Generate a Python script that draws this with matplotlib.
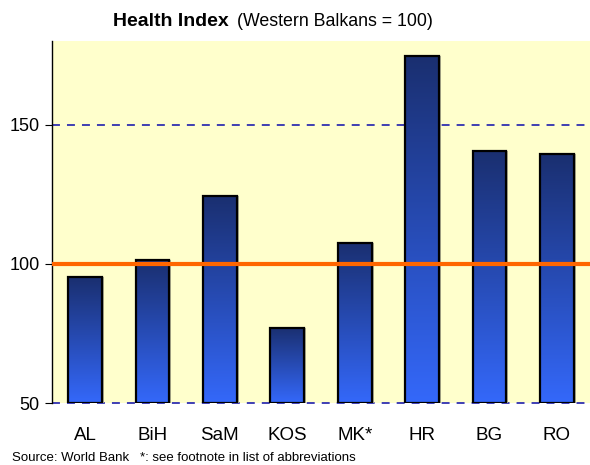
import numpy as np
import matplotlib
matplotlib.use("Agg")
import matplotlib.pyplot as plt
from matplotlib.colors import LinearSegmentedColormap

categories = ["AL", "BiH", "SaM", "KOS", "MK*", "HR", "BG", "RO"]
values = [95.2, 101.2, 124.2, 77.1, 107.6, 174.6, 140.4, 139.3]
yticks = [50, 100, 150]
reference = 100

plt.rcParams['font.family'] = ['Liberation Sans', 'DejaVu Sans']

fig = plt.figure(figsize=(5.9, 4.65), dpi=100)
ax = fig.add_axes([52/590, 1 - 403/465, 1 - 52/590, (403 - 41)/465])
ax.set_facecolor('#ffffcc')
ax.set_xlim(-0.49, len(categories) - 0.51)
ax.set_ylim(50, 180)

cmap = LinearSegmentedColormap.from_list('g', ['#3468fa', '#1a2f70'])
grad = np.linspace(0, 1, 256).reshape(-1, 1)
bars = ax.bar(range(len(categories)), [v - 50 for v in values], bottom=50, width=0.5,
              facecolor='none', edgecolor='black', linewidth=1.6, zorder=4)
for b in bars:
    x0, y0 = b.get_x(), b.get_y()
    w, h = b.get_width(), b.get_height()
    ax.bar(x0 + w/2 + 0.03, h, bottom=y0, width=w, color='#b0b090', zorder=2, linewidth=0)
    im = ax.imshow(grad, extent=[x0, x0 + w, y0, y0 + h], aspect='auto', cmap=cmap,
                   origin='lower', zorder=3)
    im.set_clip_path(b)

dash = (0, (4.4, 3.9))
ax.axhline(150, color='#3030b0', lw=1.3, ls=dash, zorder=1)
ax.axhline(50, color='#3030b0', lw=1.3, ls=dash, zorder=1, clip_on=False)
ax.axhline(reference, color='#ff6600', lw=3, zorder=5)

ax.set_yticks(yticks)
ax.set_yticklabels([str(t) for t in yticks], fontsize=13)
ax.set_xticks(range(len(categories)))
ax.set_xticklabels(categories, fontsize=13.5)
ax.tick_params(axis='x', length=0, pad=17)
ax.tick_params(axis='y', length=5, width=0.8, pad=4)
for s in ['top', 'right', 'bottom']:
    ax.spines[s].set_visible(False)
ax.spines['left'].set_linewidth(1.0)

fig.text(229/590, 1 - 21/465, 'Health Index', ha='right', va='center', fontsize=14, fontweight='bold')
fig.text(237/590, 1 - 21/465, '(Western Balkans = 100)', ha='left', va='center', fontsize=12.8)
fig.text(12/590, 1 - 458/465, 'Source: World Bank   *: see footnote in list of abbreviations',
         ha='left', va='center', fontsize=9.5)

fig.savefig('out.png', dpi=100)
